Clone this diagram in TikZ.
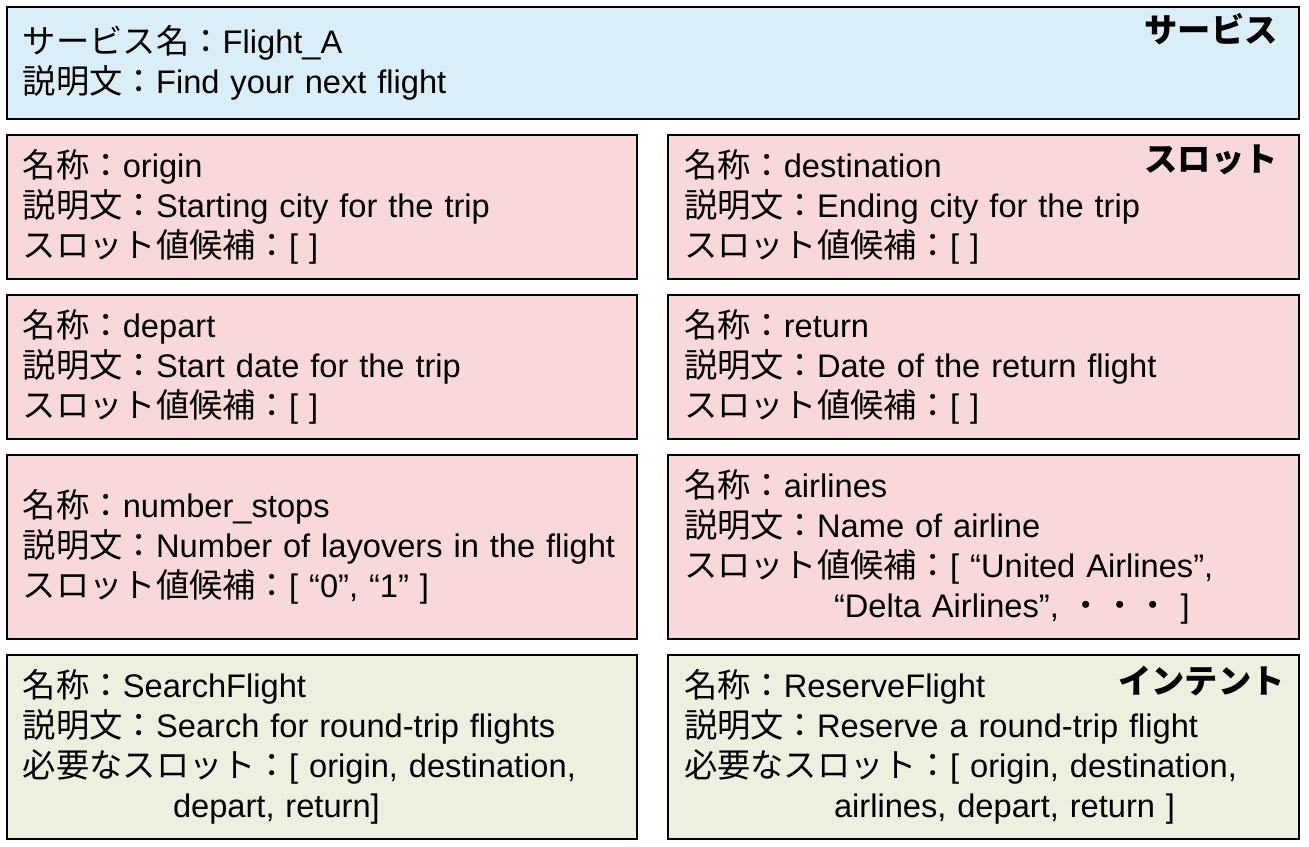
\documentclass[tikz,border=0pt]{standalone}
\usepackage{fontspec}
\setmainfont{Liberation Sans}[Scale=1.02]
\newfontfamily\jpfont{Noto Sans CJK JP}[Scale=1.04]
\definecolor{svcblue}{RGB}{218,238,247}
\definecolor{slotpink}{RGB}{248,216,218}
\definecolor{intentgreen}{RGB}{235,241,222}
\newcommand{\jp}[1]{{\jpfont #1}}

\begin{document}
\begin{tikzpicture}[x=1pt,y=-1pt,
  box/.style={draw, line width=2pt, anchor=north west, align=left,
    inner xsep=16pt, inner ysep=0pt, font=\fontsize{32}{40}\selectfont},
  svcbox/.style={box, fill=svcblue, text width=1260pt, minimum height=112pt},
  slotbox/.style={box, fill=slotpink, text width=598pt},
  intentbox/.style={box, fill=intentgreen, text width=598pt, minimum height=184pt},
  tag/.style={anchor=east, inner sep=0pt, font=\fontsize{32}{40}\selectfont\jpfont\bfseries}]
  \useasboundingbox (0,0) rectangle (1309,846);

  % service
  \node[svcbox] (svc) at (6,6)
  {\jp{サービス名：}Flight\_A\\
  \jp{説明文：}Find your next flight};

  % slots
  \node[slotbox, minimum height=144pt] (origin) at (6,134)
  {\jp{名称：}origin\\
  \jp{説明文：}Starting city for the trip\\
  \jp{スロット値候補：}[ ]};
  \node[slotbox, minimum height=144pt, text width=599pt] (dest) at (667,134)
  {\jp{名称：}destination\\
  \jp{説明文：}Ending city for the trip\\
  \jp{スロット値候補：}[ ]};
  \node[slotbox, minimum height=144pt] (depart) at (6,294)
  {\jp{名称：}depart\\
  \jp{説明文：}Start date for the trip\\
  \jp{スロット値候補：}[ ]};
  \node[slotbox, minimum height=144pt, text width=599pt] (return) at (667,294)
  {\jp{名称：}return\\
  \jp{説明文：}Date of the return flight\\
  \jp{スロット値候補：}[ ]};
  \node[slotbox, minimum height=184pt] (stops) at (6,454)
  {\jp{名称：}number\_stops\\
  \jp{説明文：}Number of layovers in the flight\\
  \jp{スロット値候補：}[ “0”, “1” ]};
  \node[slotbox, minimum height=184pt, text width=599pt] (airlines) at (667,454)
  {\jp{名称：}airlines\\
  \jp{説明文：}Name of airline\\
  \jp{スロット値候補：}[ “United Airlines”,\\
  \hspace*{150pt}“Delta Airlines”, \jp{・・・} ]};

  % intents
  \node[intentbox] (search) at (6,654)
  {\jp{名称：}SearchFlight\\
  \jp{説明文：}Search for round-trip flights\\
  \jp{必要なスロット：}[ origin, destination,\\
  \hspace*{150pt}depart, return]};
  \node[intentbox, text width=599pt] (reserve) at (667,654)
  {\jp{名称：}ReserveFlight\\
  \jp{説明文：}Reserve a round-trip flight\\
  \jp{必要なスロット：}[ origin, destination,\\
  \hspace*{150pt}airlines, depart, return ]};

  \node[tag] (svctag) at (1278,29) {サービス};
  \node[tag] (slottag) at (1278,160) {スロット};
  \node[tag] (intenttag) at (1285,681) {インテント};
\end{tikzpicture}
\end{document}
